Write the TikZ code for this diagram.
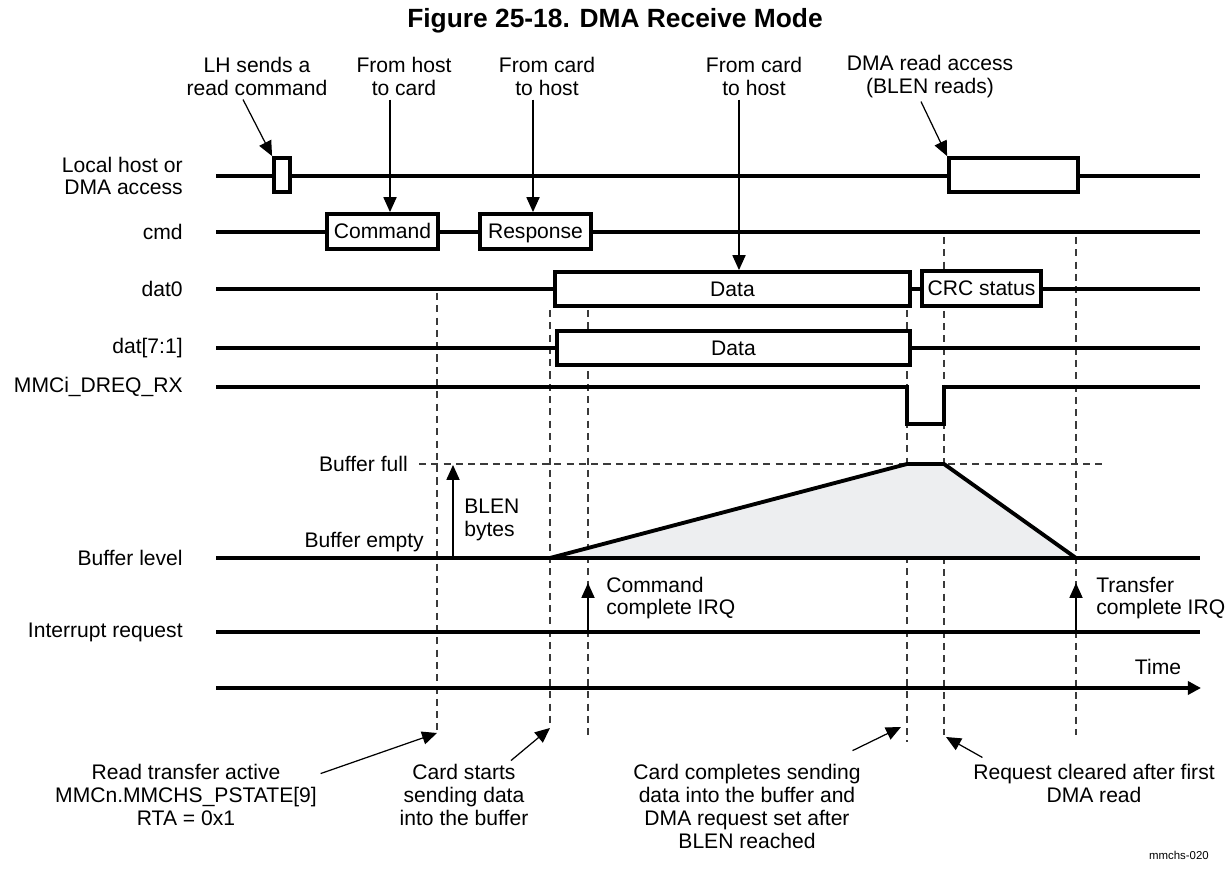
\documentclass[tikz,border=0pt]{standalone}
\usepackage{fontspec}
\setmainfont{Liberation Sans}
\usetikzlibrary{arrows.meta}
\definecolor{buffill}{HTML}{EDEEF0}
\definecolor{guidegray}{HTML}{3A3A3A}

\begin{document}
\begin{tikzpicture}[x=0.02cm,y=-0.02cm,line join=miter,
  font=\fontsize{12}{13}\selectfont,
  sig/.style={line width=2.2pt},
  sigbox/.style={draw,line width=2.2pt,fill=white,inner sep=0pt,text height=8.6pt,text depth=0.4pt},
  guide/.style={draw=guidegray,line width=0.8pt,dash pattern=on 4pt off 3pt},
  ptr/.style={line width=0.7pt,-{Triangle[length=8.5pt,width=7.5pt]}},
  lbl/.style={anchor=east,align=right,inner sep=0pt},
  note/.style={align=center,inner sep=2pt}]
  \useasboundingbox (0,0) rectangle (1232,871);
  \node[font=\bfseries\fontsize{15}{18}\selectfont] (title) at (615,21) {Figure 25-18. DMA Receive Mode};

  \node[lbl] (lhost) at (183,176) {Local host or\\DMA access};
  \node[lbl] (cmd) at (183,232) {cmd};
  \node[lbl] (dat0) at (183,289) {dat0};
  \node[lbl] (dat71) at (183,348) {dat[7:1]};
  \node[lbl] (dreq) at (183,387) {MMCi\_DREQ\_RX};
  \node[lbl] (buflvl) at (183,558) {Buffer level};
  \node[lbl] (irq) at (183,632) {Interrupt request};

  \draw[guide] (437,293) -- (437,733) coordinate (g1);
  \draw[guide] (550,310) -- (550,728) coordinate (g2);
  \draw[guide] (588,310) -- (588,740) coordinate (g3);
  \draw[guide] (907,310) -- (907,742) coordinate (g4);
  \draw[guide] (944,237) -- (944,735) coordinate (g5);
  \draw[guide] (1076,237) -- (1076,735) coordinate (g6);
  \draw[guide] (419,464) -- (1106,464);

  \fill[buffill] (550,558) -- (907,464) -- (944,464) -- (1076,558) -- cycle;
  \draw[sig] (550,558) -- (907,464) -- (944,464) -- (1076,558);

  \draw[sig] (216,176) -- (1200,176);
  \draw[sig] (216,232) -- (1200,232);
  \draw[sig] (216,289) -- (1200,289);
  \draw[sig] (216,348) -- (1200,348);
  \draw[sig] (216,387) -- (907,387) -- (907,424) -- (944,424) -- (944,387) -- (1200,387);
  \draw[sig] (216,558) -- (1200,558);
  \draw[sig] (216,632) -- (1200,632);
  \draw[sig,-{Triangle[length=7.5pt,width=7.5pt]}] (216,688) -- (1201,688);
  \node (time) at (1158,667) {Time};

  \node[sigbox,minimum width=0.32cm,minimum height=0.68cm] (lh1) at (282,175) {};
  \node[sigbox,minimum width=2.58cm,minimum height=0.68cm] (dmabox) at (1013.5,175) {};
  \node[sigbox,minimum width=2.22cm,minimum height=0.70cm] (cmdbox) at (382.5,231.5) {Command};
  \node[sigbox,minimum width=2.22cm,minimum height=0.70cm] (rspbox) at (535.5,231.5) {Response};
  \node[sigbox,minimum width=7.10cm,minimum height=0.68cm] (d0box) at (732.5,289) {Data};
  \node[sigbox,minimum width=2.38cm,minimum height=0.70cm] (crcbox) at (981.5,288.5) {CRC status};
  \node[sigbox,minimum width=7.06cm,minimum height=0.68cm] (d71box) at (733.5,348) {Data};

  \node[note] (lhsend) at (257,76.5) {LH sends a\\read command};
  \node[note] (h2c) at (404,76.5) {From host\\to card};
  \node[note] (c2h) at (547,76.5) {From card\\to host};
  \node[note] (c2hdat) at (754,76.5) {From card\\to host};
  \node[note] (dmard) at (930,76.5) {DMA read access\\(BLEN reads)};
  \draw[ptr] ([xshift=-0.28cm]lhsend.south) -- (lh1.north west);
  \draw[ptr] ([xshift=-0.28cm]h2c.south) -- ([xshift=-0.28cm]h2c.south |- cmdbox.north);
  \draw[ptr] ([xshift=-0.28cm]c2h.south) -- ([xshift=-0.28cm]c2h.south |- rspbox.north);
  \draw[ptr] ([xshift=-0.3cm]c2hdat.south) -- ([xshift=-0.3cm]c2hdat.south |- d0box.north);
  \draw[ptr] ([xshift=-0.18cm]dmard.south) -- (dmabox.north west);

  \node[anchor=east] (buffull) at (414,464) {Buffer full};
  \node[anchor=east] (bufempty) at (430,542) {Buffer empty};
  \node[anchor=west,align=left,inner sep=0pt] (blen) at (464,520) {BLEN\\bytes};
  \draw[ptr] (blen.west |- buflvl.east) ++(-11,0) -- ++(0,-93);

  \node[anchor=west,align=left,inner sep=0pt] (cmdirq) at (606,598) {Command\\complete IRQ};
  \node[anchor=west,align=left,inner sep=0pt] (xferirq) at (1096,598) {Transfer\\complete IRQ};
  \draw[ptr] (g3 |- irq.east) -- (588,583);
  \draw[ptr] (g6 |- irq.east) -- (1076,583);

  \node[note] (rta) at (186,795) {Read transfer active\\MMCn.MMCHS\_PSTATE[9]\\RTA = 0x1};
  \node[note] (cstart) at (464,795) {Card starts\\sending data\\into the buffer};
  \node[note] (cdone) at (747,806.5) {Card completes sending\\data into the buffer and\\DMA request set after\\BLEN reached};
  \node[note] (rclr) at (1094,783.5) {Request cleared after first\\DMA read};
  \draw[ptr] ([yshift=-0.26cm]rta.north east) -- (g1);
  \draw[ptr] ([xshift=0.94cm]cstart.north) -- (g2);
  \draw[ptr] ([xshift=-0.24cm,yshift=0.2cm]cdone.north east) -- ([xshift=-0.12cm,yshift=0.3cm]g4);
  \draw[ptr] ([xshift=0.26cm,yshift=0.06cm]rclr.north west) -- ([xshift=0.04cm,yshift=-0.04cm]g5);

  \node[anchor=east,font=\fontsize{6.5}{7}\selectfont] (figid) at (1215,855) {mmchs-020};
\end{tikzpicture}
\end{document}
